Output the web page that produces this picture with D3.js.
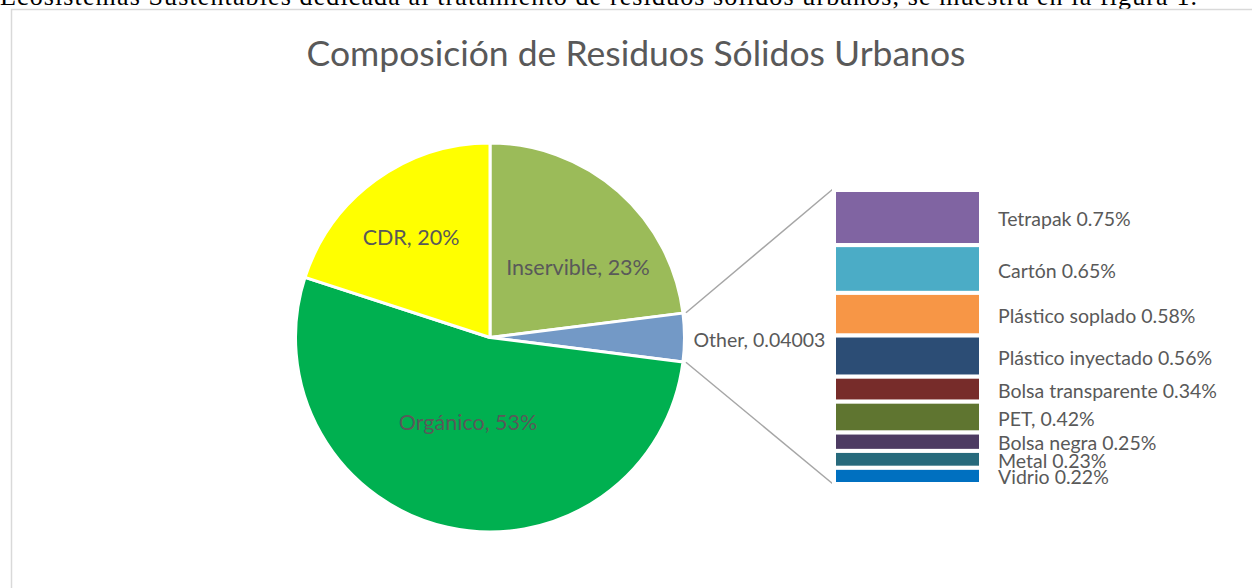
<!DOCTYPE html>
<html>
<head>
<meta charset="utf-8">
<script src="https://cdn.jsdelivr.net/npm/d3@7"></script>
<style>
  html, body { margin: 0; padding: 0; background: #ffffff; overflow: hidden; }
  svg { display: block; }
</style>
</head>
<body>
<svg id="chart" width="1252" height="588"></svg>
<script>
// Main pie: composition of urban solid waste (fractions of the total)
const pieCategories = ["Inservible", "Other", "Orgánico", "CDR"];
const pieValues = [0.23, 0.04003, 0.53, 0.20];
const pieColors = ["#9bbb59", "#7399c6", "#00b050", "#ffff00"];

// Breakdown of the "Other" slice (percent of the total)
const barCategories = ["Tetrapak", "Cartón", "Plástico soplado", "Plástico inyectado",
  "Bolsa transparente", "PET", "Bolsa negra", "Metal", "Vidrio"];
const barValues = [0.75, 0.65, 0.58, 0.56, 0.34, 0.42, 0.25, 0.23, 0.22];
const barSeparators = [" ", " ", " ", " ", " ", ", ", " ", " ", " "];
const barColors = ["#8064a2", "#4bacc6", "#f79646", "#2c4d75", "#772c2a",
  "#5f7530", "#4d3b62", "#276a7c", "#0070c0"];

const titleText = "Composición de Residuos Sólidos Urbanos";
const captionText = "Ecosistemas Sustentables dedicada al tratamiento de residuos sólidos urbanos, se muestra en la figura 1.";

const svg = d3.select("#chart");
const labelFont = "Lato, 'Open Sans', sans-serif";
const textColor = "#595959";

// running text of the page above the chart
svg.append("text")
  .attr("x", 0).attr("y", 4.5)
  .attr("textLength", 1197).attr("lengthAdjust", "spacing")
  .style("font-family", "'Liberation Serif', 'Times New Roman', serif")
  .style("font-size", "26px")
  .attr("fill", "#000")
  .text(captionText);

// chart frame
svg.append("rect")
  .attr("x", 11.5).attr("y", 9.5)
  .attr("width", 1400).attr("height", 800)
  .attr("fill", "#fff")
  .attr("stroke", "#d9d9d9").attr("stroke-width", 1.5);

// title
svg.append("text")
  .attr("x", 636).attr("y", 66)
  .attr("text-anchor", "middle")
  .style("font-family", labelFont)
  .style("font-size", "35.5px")
  .attr("fill", textColor)
  .text(titleText);

// ---- pie ----
const cx = 490, cy = 337.5, r = 194.5;
const pieData = pieCategories.map((c, i) => ({ name: c, value: pieValues[i], color: pieColors[i] }));
const arcs = d3.pie().sort(null).value(d => d.value)(pieData);
const arc = d3.arc().innerRadius(0).outerRadius(r);

const g = svg.append("g").attr("transform", `translate(${cx},${cy})`);
g.selectAll("path.slice")
  .data(arcs)
  .join("path")
  .attr("class", "slice")
  .attr("d", arc)
  .attr("fill", d => d.data.color)
  .attr("stroke", "#fff")
  .attr("stroke-width", 3)
  .attr("stroke-linejoin", "round");

// in-slice labels (offset from the pie centre)
const labelOffsets = {
  "Inservible": [88, -71],
  "Orgánico": [-22, 84],
  "CDR": [-79, -101]
};
const pct = d3.format(".0%");
arcs.forEach(a => {
  const name = a.data.name;
  if (name === "Other") {
    const mid = (a.startAngle + a.endAngle) / 2;
    const px = Math.sin(mid) * (r + 9);
    const py = -Math.cos(mid) * (r + 9);
    g.append("text")
      .attr("x", px).attr("y", py + 1.5)
      .attr("dominant-baseline", "central")
      .style("font-family", labelFont)
      .style("font-size", "19.5px")
      .attr("fill", textColor)
      .text(`${name}, ${a.data.value}`);
  } else {
    const [dx, dy] = labelOffsets[name];
    g.append("text")
      .attr("x", dx).attr("y", dy)
      .attr("text-anchor", "middle")
      .attr("dominant-baseline", "central")
      .style("font-family", labelFont)
      .style("font-size", "21.5px")
      .attr("fill", textColor)
      .text(`${name}, ${pct(a.data.value)}`);
  }
});

// ---- stacked bar for the "Other" breakdown ----
const barX = 834, barW = 147;
const total = d3.sum(barValues);
const y = d3.scaleLinear().domain([0, total]).range([190, 484]);
const cum = d3.cumsum(barValues);
const segs = barCategories.map((c, i) => ({
  name: c, value: barValues[i], sep: barSeparators[i], color: barColors[i],
  y0: cum[i] - barValues[i], y1: cum[i]
}));

// connector lines from the "Other" slice to the bar
const otherArc = arcs[pieCategories.indexOf("Other")];
const edge = ang => [cx + Math.sin(ang) * (r + 3), cy - Math.cos(ang) * (r + 3)];
const pTop = edge(otherArc.startAngle);
const pBot = edge(otherArc.endAngle);
svg.append("line")
  .attr("x1", pTop[0]).attr("y1", pTop[1])
  .attr("x2", barX - 1).attr("y2", y(0) - 1)
  .attr("stroke", "#a6a6a6").attr("stroke-width", 1.5);
svg.append("line")
  .attr("x1", pBot[0]).attr("y1", pBot[1])
  .attr("x2", barX - 1).attr("y2", y(total))
  .attr("stroke", "#a6a6a6").attr("stroke-width", 1.5);

svg.selectAll("rect.seg")
  .data(segs)
  .join("rect")
  .attr("class", "seg")
  .attr("x", barX)
  .attr("y", d => y(d.y0))
  .attr("width", barW)
  .attr("height", d => y(d.y1) - y(d.y0))
  .attr("fill", d => d.color)
  .attr("stroke", "#fff")
  .attr("stroke-width", 4);

svg.selectAll("text.seglabel")
  .data(segs)
  .join("text")
  .attr("class", "seglabel")
  .attr("x", 998)
  .attr("y", d => (y(d.y0) + y(d.y1)) / 2 + 1)
  .attr("dominant-baseline", "central")
  .style("font-family", labelFont)
  .style("font-size", "19.5px")
  .attr("fill", textColor)
  .text(d => `${d.name}${d.sep}${d.value.toFixed(2)}%`);
</script>
</body>
</html>
